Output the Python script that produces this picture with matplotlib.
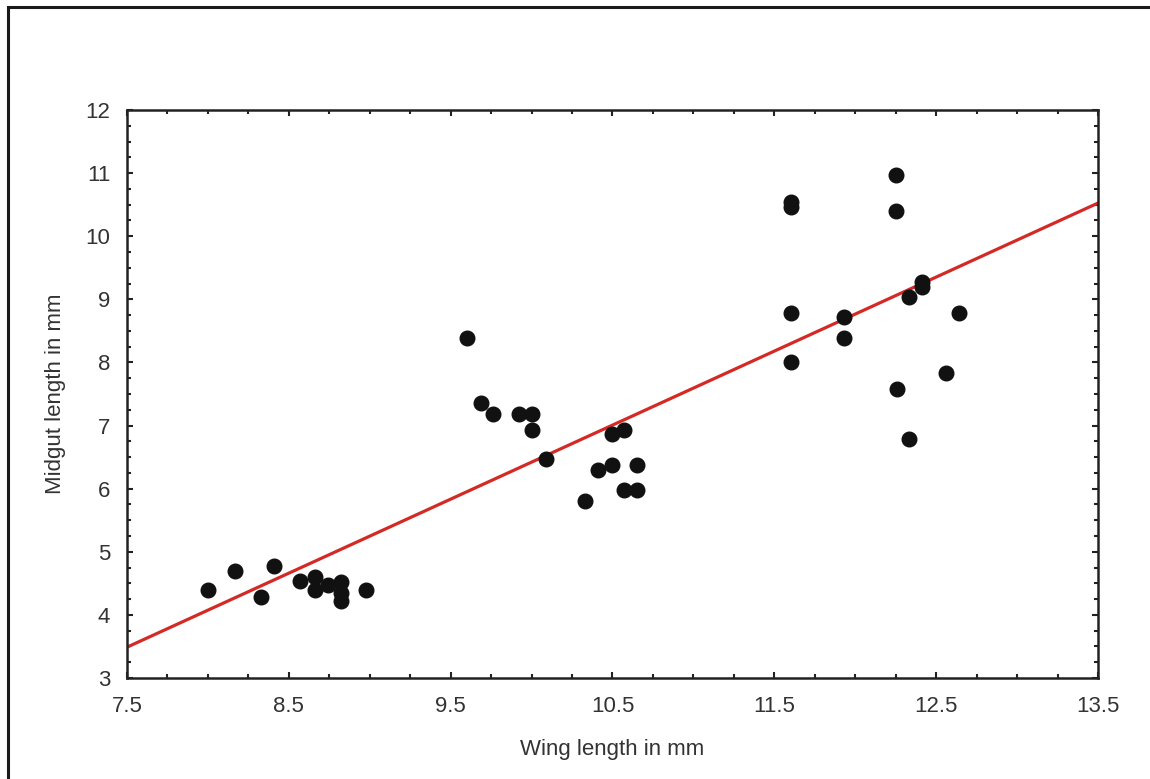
import numpy as np
import matplotlib
matplotlib.use("Agg")
from matplotlib import pyplot as plt
from matplotlib.ticker import MultipleLocator
from matplotlib.patches import Rectangle

# values
wing = [8.0, 8.17, 8.33, 8.41, 8.57, 8.66, 8.66, 8.74, 8.82, 8.82, 8.82, 8.98,
        9.6, 9.69, 9.76, 9.925, 10.0, 10.0, 10.09, 10.33, 10.41, 10.5, 10.5,
        10.57, 10.57, 10.65, 10.65,
        11.6, 11.6, 11.6, 11.6, 11.93, 11.93, 12.25, 12.25, 12.26, 12.33, 12.33,
        12.41, 12.41, 12.56, 12.64]
midgut = [4.39, 4.69, 4.29, 4.78, 4.54, 4.6, 4.4, 4.47, 4.52, 4.34, 4.22, 4.39,
          8.38, 7.36, 7.18, 7.18, 7.18, 6.93, 6.47, 5.8, 6.3, 6.37, 6.86,
          6.93, 5.98, 6.37, 5.98,
          10.55, 10.47, 8.78, 8.0, 8.72, 8.39, 10.97, 10.4, 7.58, 9.03, 6.79,
          9.28, 9.2, 7.83, 8.78]

# regression line as drawn
fit_slope = 1.173
fit_intercept = -5.31

xlim = (7.5, 13.5)
ylim = (3, 12)

plt.rcParams['font.family'] = ['Liberation Sans', 'DejaVu Sans']

fig = plt.figure(figsize=(11.5, 7.79), dpi=100)
ax = fig.add_axes([0.1104, 0.1297, 0.8444, 0.7291])

ax.plot(wing, midgut, 'o', color='#111111', markersize=10.5, zorder=3)
xs = np.array(xlim)
ax.plot(xs, fit_intercept + fit_slope * xs, color='#d42a26', linewidth=2.3, zorder=2)

ax.set_xlim(*xlim)
ax.set_ylim(*ylim)
ax.xaxis.set_minor_locator(MultipleLocator(0.25))
ax.yaxis.set_major_locator(MultipleLocator(1))
ax.yaxis.set_minor_locator(MultipleLocator(0.25))
ax.set_xticks(np.arange(7.5, 13.6, 1))
ax.set_xticklabels([f"{v:.1f}" for v in np.arange(7.5, 13.6, 1)])

ax.tick_params(which='both', direction='in', top=True, right=True,
               width=1.5, color='#222222')
ax.tick_params(which='major', length=4, labelsize=16, labelcolor='#333333')
ax.tick_params(axis='x', which='major', pad=13)
ax.tick_params(axis='y', which='major', pad=12)
ax.tick_params(which='minor', length=3)
for s in ax.spines.values():
    s.set_linewidth(1.8)
    s.set_color('#222222')

ax.set_xlabel('Wing length in mm', fontsize=16, color='#333333', labelpad=16)
ax.set_ylabel('Midgut length in mm', fontsize=16, color='#333333', labelpad=14)

# outer frame (right and bottom edges fall outside the image)
fig.patches.append(Rectangle((8 / 1150, -0.05), 1.1, 1 - 7 / 779 + 0.05,
                             transform=fig.transFigure, fill=False,
                             edgecolor='#1a1a1a', linewidth=2.2))

fig.savefig('out.png', dpi=100)
